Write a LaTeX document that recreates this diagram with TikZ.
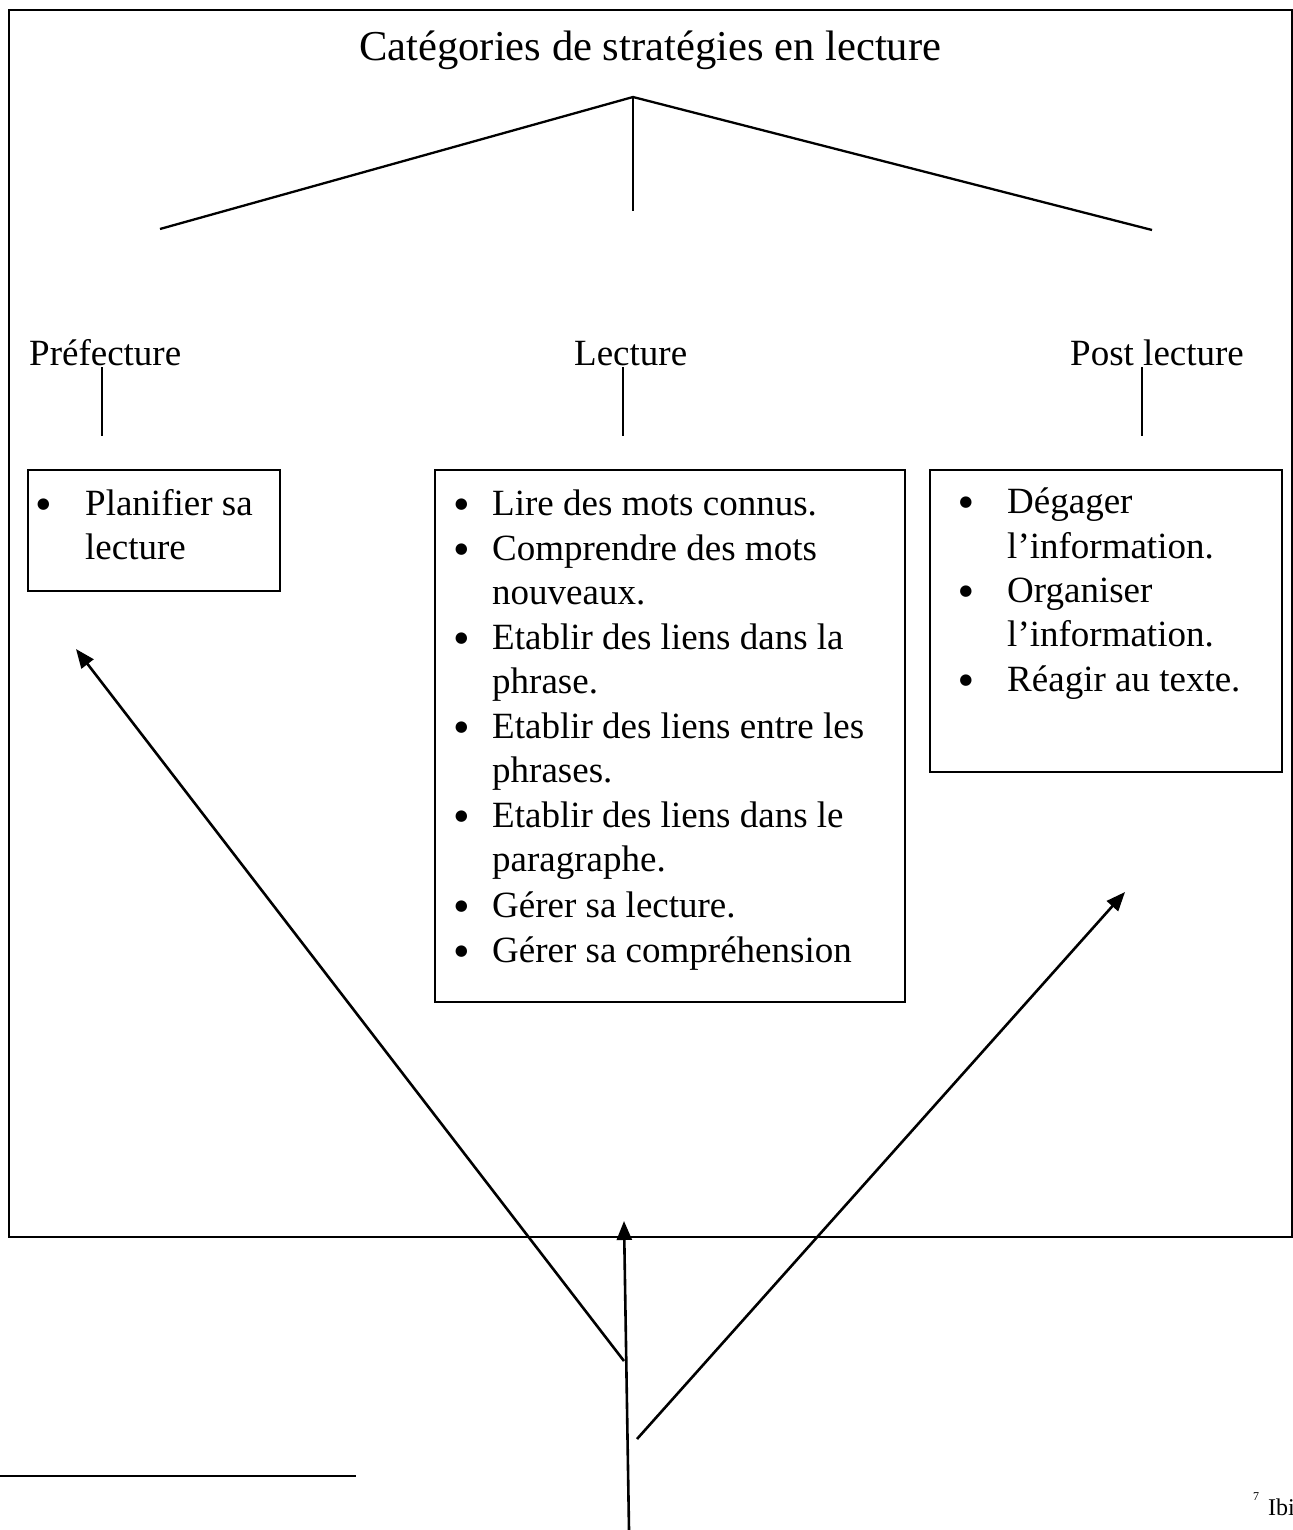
\documentclass[tikz,border=0pt]{standalone}
\usepackage{fontspec}
\setmainfont{Liberation Serif}
\newfontfamily\bulfont{DejaVu Sans}
\usetikzlibrary{arrows.meta}
\begin{document}
\begin{tikzpicture}[x=1pt,y=-1pt,
  txt/.style={anchor=base west,inner sep=0pt,font=\fontsize{37}{44}\selectfont},
  bul/.style={anchor=center,inner sep=0pt,yshift=10pt,font=\bulfont\fontsize{15}{16}\selectfont},
  titlestyle/.style={anchor=base west,inner sep=0pt,font=\fontsize{42.6}{50}\selectfont},
  frame/.style={draw,line width=2.3pt,inner sep=0pt,anchor=north west},
  ln/.style={line width=2.3pt},
  stub/.style={line width=1.7pt},
  arr/.style={line width=2.6pt,-{Triangle[length=19pt,width=15pt]}}]
\useasboundingbox (0,0) rectangle (1292,1530);
% outer frame
\node[frame,minimum width=1283pt,minimum height=1227pt] (outer) at (8,9) {};
% title and tree
\node[titlestyle] (title) at (359,61) {Catégories de stratégies en lecture};
\coordinate (apex) at (633,97);
\coordinate (tl) at (160,229);
\coordinate (tm) at (633,211);
\coordinate (tr) at (1152,230);
\draw[ln] (tl) -- (apex) -- (tr);
\draw[ln] (apex) -- (tm);
% categories
\node[txt] (pre) at (29,365) {Préfecture};
\node[txt] (lec) at (574,365) {Lecture};
\node[txt] (post) at (1070,365) {Post lecture};
\coordinate (s1a) at (102,367); \coordinate (s1b) at (102,436);
\coordinate (s2a) at (623,367); \coordinate (s2b) at (623,436);
\coordinate (s3a) at (1142,367); \coordinate (s3b) at (1142,436);
\draw[stub] (s1a) -- (s1b);
\draw[stub] (s2a) -- (s2b);
\draw[stub] (s3a) -- (s3b);
% boxes
\node[frame,minimum width=252pt,minimum height=121pt] (pbox) at (27,469) {};
\node[frame,minimum width=470pt,minimum height=532pt] (lbox) at (434,469) {};
\node[frame,minimum width=352pt,minimum height=302pt] (rbox) at (929,469) {};
% left box text
\node[bul] (pb1) at (43.5,515) {●};
\node[txt] (pt1) at (85,515) {Planifier sa};
\node[txt] (pt2) at (85,559) {lecture};
% middle box text
\node[bul] (lb1) at (461.5,515) {●};
\node[txt] (lt1) at (492,515) {Lire des mots connus.};
\node[bul] (lb2) at (461.5,560) {●};
\node[txt] (lt2) at (492,560) {Comprendre des mots};
\node[txt] (lt3) at (492,604) {nouveaux.};
\node[bul] (lb3) at (461.5,649) {●};
\node[txt] (lt4) at (492,649) {Etablir des liens dans la};
\node[txt] (lt5) at (492,693) {phrase.};
\node[bul] (lb4) at (461.5,738) {●};
\node[txt] (lt6) at (492,738) {Etablir des liens entre les};
\node[txt] (lt7) at (492,782) {phrases.};
\node[bul] (lb5) at (461.5,827) {●};
\node[txt] (lt8) at (492,827) {Etablir des liens dans le};
\node[txt] (lt9) at (492,871) {paragraphe.};
\node[bul] (lb6) at (461.5,917) {●};
\node[txt] (lt10) at (492,917) {Gérer sa lecture.};
\node[bul] (lb7) at (461.5,962) {●};
\node[txt] (lt11) at (492,962) {Gérer sa compréhension};
% right box text
\node[bul] (rb1) at (966,513) {●};
\node[txt] (rt1) at (1007,513) {Dégager};
\node[txt] (rt2) at (1007,558) {l’information.};
\node[bul] (rb2) at (966,602) {●};
\node[txt] (rt3) at (1007,602) {Organiser};
\node[txt] (rt4) at (1007,646) {l’information.};
\node[bul] (rb3) at (966,691) {●};
\node[txt] (rt5) at (1007,691) {Réagir au texte.};
% arrows
\coordinate (root) at (629,1530);
\coordinate (mtip) at (624,1221);
\coordinate (lbase) at (624,1361);
\coordinate (ltip) at (76,649);
\coordinate (rbase) at (637,1439);
\coordinate (rtip) at (1125,892);
\draw[arr] (root) -- (mtip);
\draw[arr] (lbase) -- (ltip);
\draw[arr] (rbase) -- (rtip);
% footnote
\coordinate (fa) at (0,1476);
\coordinate (fb) at (356,1476);
\draw[stub] (fa) -- (fb);
\node[anchor=base west,inner sep=0pt,font=\fontsize{12}{14}\selectfont] (fn7) at (1253,1500) {7};
\node[anchor=base west,inner sep=0pt,font=\fontsize{24}{28}\selectfont] (ibi) at (1268,1515) {Ibi};
\end{tikzpicture}
\end{document}
